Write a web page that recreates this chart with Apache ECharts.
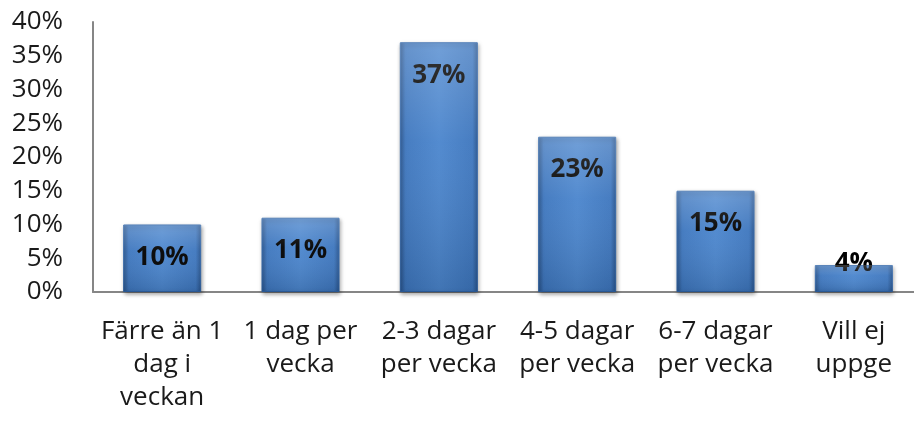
<!DOCTYPE html>
<html>
<head>
<meta charset="utf-8">
<script src="https://cdn.jsdelivr.net/npm/echarts@6/dist/echarts.min.js"></script>
<style>
  html, body { margin: 0; padding: 0; background: #fff; overflow: hidden; }
  /* the original plot runs a little past the right edge of the picture */
  #main { width: 923px; height: 425px; }
</style>
</head>
<body>
<div id="main"></div>
<script>
var categories = [
    'Färre än 1\ndag i\nveckan',
    '1 dag per\nvecka',
    '2-3 dagar\nper vecka',
    '4-5 dagar\nper vecka',
    '6-7 dagar\nper vecka',
    'Vill ej\nuppge'
];
var values = [10, 11, 37, 23, 15, 4];
var yTicks = [0, 5, 10, 15, 20, 25, 30, 35, 40];

var barColor = new echarts.graphic.LinearGradient(0, 0, 1, 0, [
    { offset: 0, color: '#2a5894' },
    { offset: 0.07, color: '#3d76be' },
    { offset: 0.5, color: '#4a85cd' },
    { offset: 0.93, color: '#3d76be' },
    { offset: 1, color: '#2a5894' }
]);
var shade = new echarts.graphic.LinearGradient(0, 0, 0, 1, [
    { offset: 0, color: 'rgba(255,255,255,0.22)' },
    { offset: 0.4, color: 'rgba(255,255,255,0.05)' },
    { offset: 1, color: 'rgba(0,0,0,0.12)' }
]);

// short bars get their label pushed up over the top edge, like Excel does
var barData = values.map(function(v) {
    var item = { value: v };
    if (v < 8) {
        item.label = { position: 'top', distance: -12 };
    }
    return item;
});

var myChart = echarts.init(document.getElementById('main'));
myChart.setOption({
    animation: false,
    grid: {
        left: 93,
        top: 22,
        right: 0,
        height: 270
    },
    xAxis: {
        type: 'category',
        data: categories,
        axisLine: { lineStyle: { color: '#868686', width: 2 } },
        axisTick: { show: false },
        axisLabel: {
            interval: 0,
            margin: 23,
            color: '#1a1a1a',
            fontFamily: 'Open Sans',
            fontSize: 26,
            lineHeight: 33
        }
    },
    yAxis: {
        type: 'value',
        min: yTicks[0],
        max: yTicks[yTicks.length - 1],
        interval: 5,
        splitLine: { show: false },
        axisLine: { show: true, lineStyle: { color: '#868686', width: 2 } },
        axisTick: { show: false },
        axisLabel: {
            margin: 30,
            color: '#1a1a1a',
            fontFamily: 'Open Sans',
            fontSize: 26,
            formatter: '{value}%'
        }
    },
    series: [{
        type: 'bar',
        data: barData,
        barWidth: 78,
        itemStyle: {
            color: barColor,
            borderColor: '#2f64a8',
            borderWidth: 1,
            shadowColor: 'rgba(0,0,0,0.35)',
            shadowBlur: 4,
            shadowOffsetX: 1,
            shadowOffsetY: 2
        },
        label: {
            show: true,
            position: 'insideTop',
            distance: 20,
            color: '#000',
            fontFamily: 'Open Sans',
            fontWeight: 'bold',
            fontSize: 26,
            formatter: '{c}%'
        },
        z: 2
    }, {
        type: 'bar',
        data: values,
        barWidth: 78,
        barGap: '-100%',
        silent: true,
        itemStyle: { color: shade },
        z: 3
    }]
});
</script>
</body>
</html>
